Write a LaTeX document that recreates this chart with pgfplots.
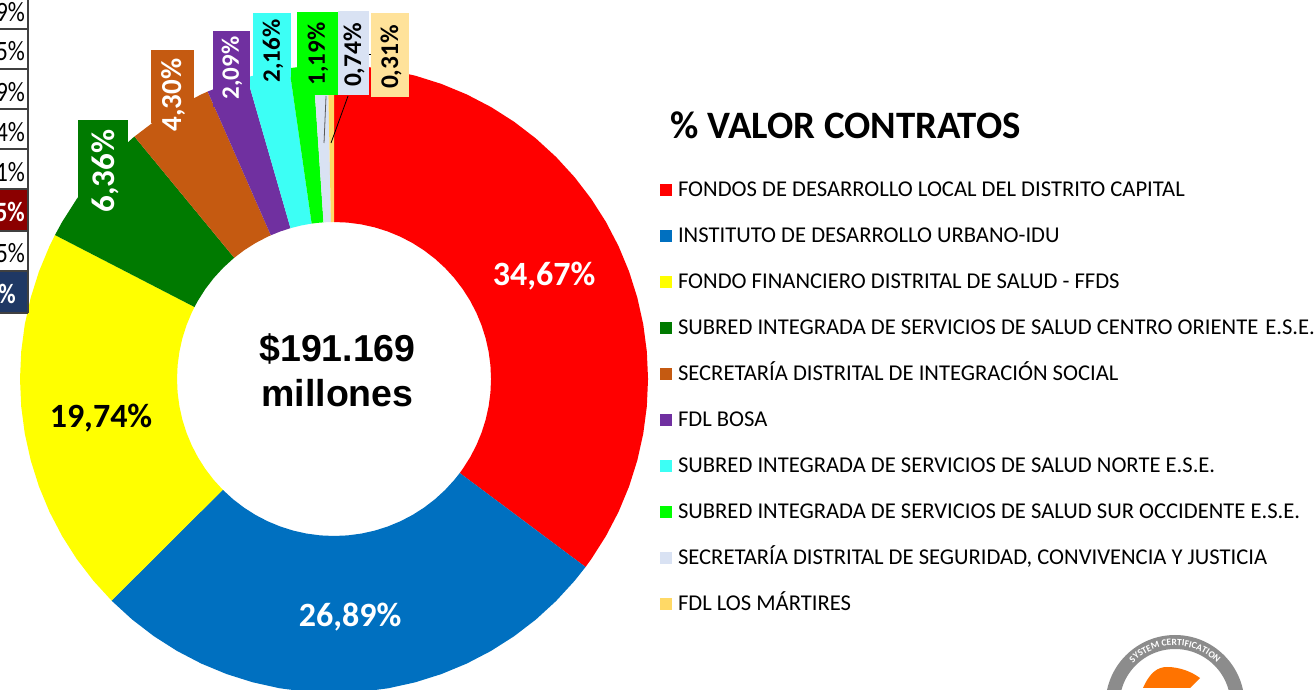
\documentclass[border=0pt]{standalone}
\usepackage{fontspec}
\setmainfont{Carlito}
\newfontfamily\arialf{Liberation Sans}
\usepackage{pgfplots}
\usepgfplotslibrary{polar}
\usetikzlibrary{decorations.text}
\pgfplotsset{compat=1.18}
\definecolor{cRed}{HTML}{FF0000}
\definecolor{cBlue}{HTML}{0070C0}
\definecolor{cYellow}{HTML}{FFFF00}
\definecolor{cGreen}{HTML}{007A00}
\definecolor{cBrown}{HTML}{C55A11}
\definecolor{cPurple}{HTML}{7030A0}
\definecolor{cCyan}{HTML}{3CFFF5}
\definecolor{cLime}{HTML}{00FF00}
\definecolor{cGray}{HTML}{D9E2F3}
\definecolor{cTan}{HTML}{FFD966}
\definecolor{cTanBox}{HTML}{FFE29A}
\definecolor{cWine}{HTML}{8B0000}
\definecolor{cNavy}{HTML}{1F3864}
% reference pixels to axis units (ring centre is at 334,379)
\newcommand{\PX}[2]{(axis cs:{#1-334},{379-#2})}
% label box: x0 y0 x1 y1 colour
\newcommand{\lbox}[5]{\fill[#5] \PX{#1}{#2} rectangle \PX{#3}{#4};}
% rotated label: cx cy colour size text
\newcommand{\rlab}[5]{\node[rotate=90,text=#3,inner sep=0pt,font=\fontsize{#4}{#4}\selectfont\bfseries] at \PX{#1}{#2} {#5};}
\begin{document}
\begin{tikzpicture}[x=1pt,y=1pt]
\useasboundingbox (0,0) rectangle (1314,690);
\clip (0,0) rectangle (1314,690);
\begin{axis}[
    at={(0,0)}, anchor=south west,
    scale only axis, width=1314pt, height=690pt,
    xmin=-334, xmax=980, ymin=-311, ymax=379,
    hide axis, clip=false,
    legend cell align=left,
    legend image code/.code={\fill[#1,draw=none] (0pt,-6pt) rectangle (12pt,6pt); \path (18pt,0pt);},
    legend style={at={(axis cs:326,212)}, anchor=north west, draw=none, fill=none,
        inner sep=0pt, outer sep=0pt, row sep=0pt,
        font=\fontsize{22.6}{22.6}\selectfont,
        nodes={text height=30pt, text depth=16pt, inner sep=0pt, outer sep=0pt}},
]
\addplot[fill=cRed,draw=none,data cs=polar] coordinates {
    (90,314) (85,314) (80,314) (75,314) (70,314) (65,314) (60,314) (55,314) (50,314) (45,314)
    (40,314) (35,314) (30,314) (25,314) (20,314) (15,314) (10,314) (5,314) (0,314) (-5,314)
    (-10,314) (-15,314) (-20,314) (-25,314) (-30,314) (-35,314) (-36.78,314)
    (-36.78,157) (-35,157) (-30,157) (-25,157) (-20,157) (-15,157) (-10,157) (-5,157) (0,157)
    (5,157) (10,157) (15,157) (20,157) (25,157) (30,157) (35,157) (40,157) (45,157) (50,157)
    (55,157) (60,157) (65,157) (70,157) (75,157) (80,157) (85,157) (90,157)} -- cycle;
\addlegendentry{FONDOS DE DESARROLLO LOCAL DEL DISTRITO CAPITAL}
\addplot[fill=cBlue,draw=none,data cs=polar] coordinates {
    (-36.78,314) (-40,314) (-45,314) (-50,314) (-55,314) (-60,314) (-65,314) (-70,314) (-75,314)
    (-80,314) (-85,314) (-90,314) (-95,314) (-100,314) (-105,314) (-110,314) (-115,314) (-120,314)
    (-125,314) (-130,314) (-135,314) (-135.11,314)
    (-135.11,157) (-135,157) (-130,157) (-125,157) (-120,157) (-115,157) (-110,157) (-105,157)
    (-100,157) (-95,157) (-90,157) (-85,157) (-80,157) (-75,157) (-70,157) (-65,157) (-60,157)
    (-55,157) (-50,157) (-45,157) (-40,157) (-36.78,157)} -- cycle;
\addlegendentry{INSTITUTO DE DESARROLLO URBANO-IDU}
\addplot[fill=cYellow,draw=none,data cs=polar] coordinates {
    (-135.11,314) (-140,314) (-145,314) (-150,314) (-155,314) (-160,314) (-165,314) (-170,314)
    (-175,314) (-180,314) (-185,314) (-190,314) (-195,314) (-200,314) (-205,314) (-207.29,314)
    (-207.29,157) (-205,157) (-200,157) (-195,157) (-190,157) (-185,157) (-180,157) (-175,157)
    (-170,157) (-165,157) (-160,157) (-155,157) (-150,157) (-145,157) (-140,157) (-135.11,157)} -- cycle;
\addlegendentry{FONDO FINANCIERO DISTRITAL DE SALUD - FFDS}
\addplot[fill=cGreen,draw=none,data cs=polar] coordinates {
    (-207.29,314) (-210,314) (-215,314) (-220,314) (-225,314) (-230,314) (-230.54,314)
    (-230.54,157) (-230,157) (-225,157) (-220,157) (-215,157) (-210,157) (-207.29,157)} -- cycle;
\addlegendentry{SUBRED INTEGRADA DE SERVICIOS DE SALUD CENTRO ORIENTE\hspace{7pt}E.S.E.}
\addplot[fill=cBrown,draw=none,data cs=polar] coordinates {
    (-230.54,314) (-235,314) (-240,314) (-245,314) (-246.27,314)
    (-246.27,157) (-245,157) (-240,157) (-235,157) (-230.54,157)} -- cycle;
\addlegendentry{SECRETARÍA DISTRITAL DE INTEGRACIÓN SOCIAL}
\addplot[fill=cPurple,draw=none,data cs=polar] coordinates {
    (-246.27,314) (-250,314) (-253.91,314) (-253.91,157) (-250,157) (-246.27,157)} -- cycle;
\addlegendentry{FDL BOSA}
\addplot[fill=cCyan,draw=none,data cs=polar] coordinates {
    (-253.91,314) (-258,314) (-261.81,314) (-261.81,157) (-258,157) (-253.91,157)} -- cycle;
\addlegendentry{SUBRED INTEGRADA DE SERVICIOS DE SALUD NORTE E.S.E.}
\addplot[fill=cLime,draw=none,data cs=polar] coordinates {
    (-261.81,314) (-264,314) (-266.16,314) (-266.16,157) (-264,157) (-261.81,157)} -- cycle;
\addlegendentry{SUBRED INTEGRADA DE SERVICIOS DE SALUD SUR OCCIDENTE E.S.E.}
\addplot[fill=cGray,draw=none,data cs=polar] coordinates {
    (-266.16,314) (-268.87,314) (-268.87,157) (-266.16,157)} -- cycle;
\addlegendentry{SECRETARÍA DISTRITAL DE SEGURIDAD, CONVIVENCIA Y JUSTICIA}
\addplot[fill=cTan,draw=none,data cs=polar] coordinates {
    (-268.87,314) (-270,314) (-270,157) (-268.87,157)} -- cycle;
\addlegendentry{FDL LOS MÁRTIRES}

% label boxes and leader lines
\draw[gray!70!black,line width=0.8pt] \PX{326}{96} -- \PX{324}{143};
\draw[black,line width=0.8pt] \PX{348}{96} -- \PX{331}{143};
\draw[black,line width=0.8pt] \PX{369}{54} -- \PX{371}{54};
\lbox{78}{120}{127.5}{205}{cGreen}
\lbox{151}{50}{194}{123}{cBrown}
\lbox{213}{31}{250}{107}{cPurple}
\lbox{253}{13}{291}{77}{cCyan}
\lbox{297}{12}{338}{95}{cLime}
\lbox{338}{11}{369}{95}{cGray}
\lbox{371}{13}{409}{97}{cTanBox}
\rlab{105}{171}{white}{33}{6,36\%}
\rlab{173}{95}{white}{29}{4,30\%}
\rlab{232}{68}{white}{25}{2,09\%}
\rlab{273}{51}{black}{25}{2,16\%}
\rlab{318}{54}{black}{25}{1,19\%}
\rlab{354}{55}{black}{25.5}{0,74\%}
\rlab{391}{57}{black}{25.5}{0,31\%}
\node[text=white,inner sep=0pt,font=\fontsize{34}{34}\selectfont\bfseries] at \PX{544}{276} {34,67\%};
\node[text=white,inner sep=0pt,font=\fontsize{34}{34}\selectfont\bfseries] at \PX{350}{617} {26,89\%};
\node[text=black,inner sep=0pt,font=\fontsize{34}{34}\selectfont\bfseries] at \PX{101}{418} {19,74\%};

% centre text and title
\node[inner sep=0pt,font=\arialf\fontsize{37.5}{37.5}\selectfont\bfseries] at \PX{337.5}{349} {\$191.169};
\node[inner sep=0pt,font=\arialf\fontsize{37.5}{37.5}\selectfont\bfseries] at \PX{337.5}{393} {millones};
\node[anchor=west,inner sep=0pt,font=\fontsize{38.8}{38.8}\selectfont\bfseries] at \PX{670}{125} {\% VALOR CONTRATOS};

% table fragment cut by the left edge
\fill[white] \PX{0}{0} rectangle \PX{28}{313};
\fill[cWine] \PX{0}{189} rectangle \PX{28}{231};
\fill[cNavy] \PX{0}{271} rectangle \PX{28}{313};
\draw[black!75,line width=1.2pt] \PX{28}{0} -- \PX{28}{313};
\pgfplotsinvokeforeach{29,69,109,149,189,231,271,313}{
    \draw[black!75,line width=1.2pt] \PX{0}{#1} -- \PX{28}{#1};
}
\node[anchor=east,inner sep=0pt,xscale=0.85,font=\fontsize{28}{28}\selectfont] at \PX{25}{12} {9\%};
\node[anchor=east,inner sep=0pt,xscale=0.85,font=\fontsize{28}{28}\selectfont] at \PX{25}{51} {5\%};
\node[anchor=east,inner sep=0pt,xscale=0.85,font=\fontsize{28}{28}\selectfont] at \PX{25}{92} {9\%};
\node[anchor=east,inner sep=0pt,xscale=0.85,font=\fontsize{28}{28}\selectfont] at \PX{25}{132} {4\%};
\node[anchor=east,inner sep=0pt,xscale=0.85,font=\fontsize{28}{28}\selectfont] at \PX{25}{172} {1\%};
\node[anchor=east,inner sep=0pt,xscale=0.85,text=white,font=\fontsize{28}{28}\selectfont\bfseries] at \PX{25}{212} {5\%};
\node[anchor=east,inner sep=0pt,xscale=0.85,font=\fontsize{28}{28}\selectfont] at \PX{25}{253} {5\%};
\node[anchor=east,inner sep=0pt,xscale=0.85,text=white,font=\fontsize{28}{28}\selectfont\bfseries] at \PX{16}{294} {5\%};
\end{axis}
% certification seal, cut by the bottom edge
\draw[gray!90,line width=14pt] (1175,-14.5) circle (62.5);
\fill[orange!90!red] (1143,2) .. controls (1150,18) and (1158,23) .. (1167,23) .. controls (1180,23) and (1192,18) .. (1200,12) -- (1190,2) -- cycle;
\path[decorate,decoration={text along path,text align=center,
    text={|\fontsize{9.5}{9.5}\selectfont\bfseries\color{white}|SYSTEM CERTIFICATION}}]
    (1175,-14.5) ++(150:59) arc (150:30:59);
\end{tikzpicture}
\end{document}
